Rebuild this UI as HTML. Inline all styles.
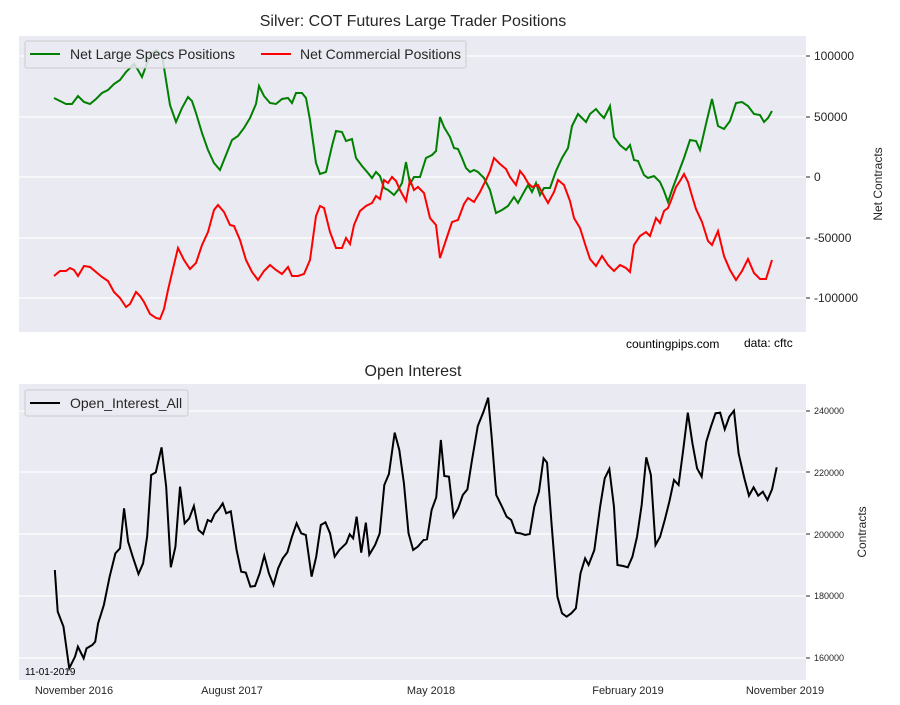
<!DOCTYPE html>
<html><head><meta charset="utf-8"><style>
body{margin:0;background:#fff;}
svg text{font-family:"Liberation Sans",sans-serif;}
</style></head><body>
<svg width="900" height="700" viewBox="0 0 900 700" xmlns="http://www.w3.org/2000/svg">
<rect x="0" y="0" width="900" height="700" fill="#fff"/>
<text x="413" y="26" font-size="16" text-anchor="middle" fill="#262626">Silver: COT Futures Large Trader Positions</text>
<rect x="19" y="36" width="787" height="296" fill="#eaeaf2"/>
<g stroke="#fff" stroke-width="1.2">
<line x1="19" x2="806" y1="56" y2="56"/><line x1="19" x2="806" y1="117" y2="117"/><line x1="19" x2="806" y1="177" y2="177"/><line x1="19" x2="806" y1="238" y2="238"/><line x1="19" x2="806" y1="298" y2="298"/>
</g>
<g font-size="12" fill="#262626">
<text x="814" y="60">100000</text><text x="814" y="121">50000</text><text x="814" y="181">0</text><text x="814" y="242">-50000</text><text x="814" y="302">-100000</text>
</g>
<g stroke="#262626"><line x1="806" x2="810" y1="56" y2="56"/><line x1="806" x2="810" y1="117" y2="117"/><line x1="806" x2="810" y1="177" y2="177"/><line x1="806" x2="810" y1="238" y2="238"/><line x1="806" x2="810" y1="298" y2="298"/></g>
<text transform="translate(882,184) rotate(-90)" font-size="12" text-anchor="middle" fill="#262626">Net Contracts</text>
<polyline fill="none" stroke="#008000" stroke-width="2" points="54,98 60,101 66,104 72,104 78,96 84,102 90,104 96,99 102,93 108,90 114,84 120,80 126,72 130,68 134,64 138,70 142,77 146,66 150,55 156,50 162,55 166,80 170,105 176,122 182,108 188,97 192,101 196,113 202,133 208,150 214,163 220,170 226,155 232,140 238,136 244,128 250,118 256,104 259,86 264,96 270,103 276,104 282,99 288,98 292,103 296,93 302,93 306,98 310,120 316,163 320,174 326,172 332,146 336,131 342,132 346,141 352,139 356,158 362,166 368,173 372,178 376,172 380,176 384,188 388,190 394,195 398,190 402,183 406,162 410,184 414,177 420,177 426,158 432,155 436,151 440,117 444,127 450,137 454,148 458,149 462,158 466,168 470,172 474,170 478,172 484,178 490,190 496,213 502,210 508,206 514,197 518,203 524,192 528,185 532,192 536,183 540,195 544,188 550,188 556,171 562,158 568,148 572,126 578,114 582,118 586,122 590,114 596,109 600,114 604,118 610,106 614,137 620,145 626,150 630,145 634,160 638,161 644,175 648,178 654,176 660,182 664,191 668,202 672,190 678,174 684,158 690,140 696,141 700,150 706,124 712,99 718,126 724,129 730,121 736,103 742,102 748,106 754,114 760,115 764,122 768,118 772,111"/>
<polyline fill="none" stroke="#ff0000" stroke-width="2" points="54,276 60,271 66,271 70,268 74,270 78,276 84,266 90,267 96,272 102,277 108,281 114,292 120,298 126,307 130,304 136,292 140,296 144,302 150,314 156,318 160,319 164,309 168,290 172,273 178,248 184,260 190,269 196,263 202,245 208,232 214,210 218,205 224,212 230,225 234,226 240,240 246,260 252,272 258,280 264,271 270,265 276,270 282,274 288,267 292,276 298,276 304,274 310,260 316,216 320,206 324,208 330,232 336,248 342,248 346,238 350,244 354,225 360,211 366,206 372,203 376,196 380,199 384,180 388,183 392,177 396,181 400,190 406,201 410,180 414,190 418,187 424,193 430,218 436,225 440,258 446,240 452,222 458,220 464,204 468,198 474,202 480,192 486,180 490,171 494,158 500,164 506,169 510,177 516,185 520,171 524,176 528,183 532,187 538,185 544,196 548,203 554,192 558,180 564,185 570,201 574,218 580,228 586,247 590,259 596,266 602,256 608,265 614,271 620,265 626,268 630,272 634,245 640,236 646,232 650,236 656,218 660,223 664,211 668,208 672,198 676,187 680,181 684,174 688,182 692,196 696,209 702,222 708,241 712,245 718,231 724,256 730,270 736,280 742,271 748,259 754,273 760,279 766,279 772,260"/>
<rect x="25" y="41" width="441" height="27" fill="#eaeaf2" fill-opacity="0.85" stroke="#cccccc" rx="2"/>
<line x1="30" x2="60" y1="54" y2="54" stroke="#008000" stroke-width="2"/>
<text x="70" y="59" font-size="14" fill="#262626">Net Large Specs Positions</text>
<line x1="261" x2="291" y1="54" y2="54" stroke="#ff0000" stroke-width="2"/>
<text x="300" y="59" font-size="14" fill="#262626">Net Commercial Positions</text>
<text x="626" y="348" font-size="12" fill="#000">countingpips.com</text>
<text x="744" y="347" font-size="12" fill="#000">data: cftc</text>

<text x="413" y="376" font-size="16" text-anchor="middle" fill="#262626">Open Interest</text>
<rect x="19" y="384" width="787" height="296" fill="#eaeaf2"/>
<g stroke="#fff" stroke-width="1.2">
<line x1="19" x2="806" y1="411" y2="411"/><line x1="19" x2="806" y1="472" y2="472"/><line x1="19" x2="806" y1="534" y2="534"/><line x1="19" x2="806" y1="596" y2="596"/><line x1="19" x2="806" y1="658" y2="658"/>
</g>
<g font-size="9" fill="#262626">
<text x="814" y="414">240000</text><text x="814" y="476">220000</text><text x="814" y="538">200000</text><text x="814" y="599">180000</text><text x="814" y="661">160000</text>
</g>
<g stroke="#262626"><line x1="806" x2="810" y1="411" y2="411"/><line x1="806" x2="810" y1="472" y2="472"/><line x1="806" x2="810" y1="534" y2="534"/><line x1="806" x2="810" y1="596" y2="596"/><line x1="806" x2="810" y1="658" y2="658"/></g>
<text transform="translate(866,532) rotate(-90)" font-size="12" text-anchor="middle" fill="#262626">Contracts</text>
<g transform="translate(0,350) scale(0.57703,0.33333)">
<polyline fill="none" stroke="#000" stroke-width="2" vector-effect="non-scaling-stroke" points="95,660 100,785 110,830 120,955 130,920 135,890 145,925 150,895 160,885 165,875 170,820 180,765 190,680 200,610 208,595 215,475 222,575 230,620 240,672 248,640 255,560 262,375 270,367 280,292 288,410 296,652 304,590 312,410 320,520 328,505 336,468 344,540 352,552 360,510 366,515 372,492 380,476 386,460 392,490 400,484 410,600 418,665 426,668 434,710 442,708 450,670 458,617 466,670 474,705 482,655 490,625 498,607 506,560 514,520 522,550 530,555 540,680 548,620 556,525 564,517 572,550 580,620 588,600 594,590 600,580 606,553 612,565 618,500 626,608 634,518 640,614 650,585 658,550 666,405 674,372 684,248 692,300 700,400 708,550 716,600 724,590 734,570 740,568 748,480 756,442 764,270 770,378 778,380 786,500 794,475 802,435 810,418 818,330 828,228 838,185 846,143 852,260 860,435 870,470 878,500 886,510 894,548 902,550 910,555 918,552 926,470 934,425 942,325 948,338 956,525 966,740 974,790 982,800 990,790 998,775 1006,670 1014,625 1020,645 1030,600 1040,470 1048,385 1056,357 1064,470 1070,645 1080,648 1088,652 1096,620 1104,560 1112,465 1120,322 1128,375 1136,585 1144,560 1152,510 1160,455 1168,390 1176,405 1184,300 1192,188 1200,280 1208,355 1216,380 1224,275 1232,230 1240,190 1248,188 1256,238 1264,200 1272,182 1280,310 1290,385 1298,437 1306,412 1314,437 1322,425 1330,450 1338,418 1346,352"/>
</g>
<rect x="25" y="390" width="163" height="26" fill="#eaeaf2" fill-opacity="0.85" stroke="#cccccc" rx="2"/>
<line x1="30" x2="60" y1="403" y2="403" stroke="#000" stroke-width="2"/>
<text x="70" y="408" font-size="14" fill="#262626">Open_Interest_All</text>
<text x="25" y="675" font-size="10" fill="#000">11-01-2019</text>
<g font-size="11" fill="#262626" text-anchor="middle">
<text x="74" y="694">November 2016</text><text x="232" y="694">August 2017</text><text x="431" y="694">May 2018</text><text x="628" y="694">February 2019</text><text x="785" y="694">November 2019</text>
</g>
</svg>
</body></html>
